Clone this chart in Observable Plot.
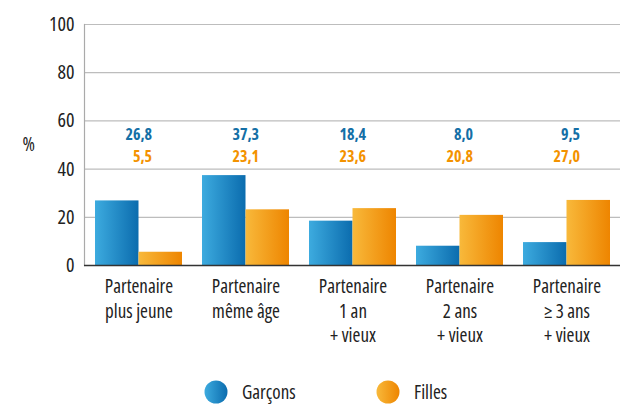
<!DOCTYPE html>
<html><head><meta charset="utf-8">
<script src="https://cdn.jsdelivr.net/npm/d3@7"></script>
<script src="https://cdn.jsdelivr.net/npm/@observablehq/plot@0.6"></script>
<style>
body{margin:0;background:#fff;font-family:"Open Sans",sans-serif;font-stretch:75%;}
svg text{font-stretch:75%;}
#legend{height:44px;position:relative;font-size:19px;color:#222;}
.item{position:absolute;top:19px;display:flex;align-items:center;gap:14px;}
</style></head><body>
<div id="chart"></div>
<div id="legend"></div>
<script>
const categories = ["Partenaire\nplus jeune", "Partenaire\nmême âge", "Partenaire\n1 an\n+ vieux", "Partenaire\n2 ans\n+ vieux", "Partenaire\n≥ 3 ans\n+ vieux"];
const series = ["Garçons", "Filles"];
const garcons = [26.8, 37.3, 18.4, 8.0, 9.5];
const filles = [5.5, 23.1, 23.6, 20.8, 27.0];
const yTicks = [0, 20, 40, 60, 80, 100];
const fmt = v => v.toFixed(1).replace(".", ",");

const dataG = categories.map((c, i) => ({cat: c, v: garcons[i]}));
const dataF = categories.map((c, i) => ({cat: c, v: filles[i]}));

const W = 622, H = 360, ML = 84, MR = 2, MT = 24, MB = 95;
const half = 43.5;

const chart = Plot.plot({
  width: W, height: H,
  marginLeft: ML, marginRight: MR, marginTop: MT, marginBottom: MB,
  style: {fontFamily: '"Open Sans",sans-serif', background: "#fff", color: "#222"},
  x: {domain: categories, paddingInner: 0.187, paddingOuter: 0.0935, axis: null},
  y: {domain: [0, 100], axis: null},
  marks: [
    Plot.gridY(yTicks, {stroke: "#bdbdbd", strokeOpacity: 1, strokeWidth: 1.2}),
    Plot.frame({anchor: "left", stroke: "#aaa", strokeWidth: 1.2}),
    Plot.barY(dataG, {x: "cat", y: "v", fill: "url(#gradBlue)", insetLeft: 0, insetRight: half}),
    Plot.barY(dataF, {x: "cat", y: "v", fill: "url(#gradOrange)", insetLeft: half, insetRight: 0}),
    Plot.ruleY([0], {stroke: "#333", strokeWidth: 1.6}),
    Plot.axisY(yTicks, {tickSize: 0, tickPadding: 10, fontSize: 20, label: null}),
    Plot.text(dataG, {x: "cat", y: () => 54.4, text: d => fmt(d.v), dx: 13, textAnchor: "end", fill: "#146fa6", fontWeight: "bold", fontSize: 16}),
    Plot.text(dataF, {x: "cat", y: () => 45.2, text: d => fmt(d.v), dx: 13, textAnchor: "end", fill: "#f39200", fontWeight: "bold", fontSize: 16}),
    Plot.text(categories, {x: d => d, text: d => d, frameAnchor: "bottom", lineAnchor: "top", dy: 10, lineHeight: 1.3, fontSize: 19, fill: "#222"}),
    Plot.text(["%"], {text: d => d, y: () => 50, frameAnchor: "left", dx: -62, fontSize: 19, fill: "#222"})
  ]
});

const ns = "http://www.w3.org/2000/svg";
const defs = document.createElementNS(ns, "defs");
defs.innerHTML = `
<linearGradient id="gradBlue" x1="0" x2="1" y1="0" y2="0"><stop offset="0" stop-color="#3dabdf"/><stop offset="1" stop-color="#0b6cae"/></linearGradient>
<linearGradient id="gradOrange" x1="0" x2="1" y1="0" y2="0"><stop offset="0" stop-color="#f8b93b"/><stop offset="1" stop-color="#ee8500"/></linearGradient>`;
chart.insertBefore(defs, chart.firstChild);
document.getElementById("chart").appendChild(chart);

const legend = document.getElementById("legend");
const colors = [["#3dabdf", "#0b6cae", "lgB"], ["#f8b93b", "#ee8500", "lgO"]];
const lefts = [204, 376];
series.forEach((s, i) => {
  const d = document.createElement("div");
  d.className = "item";
  d.style.left = lefts[i] + "px";
  d.innerHTML = `<svg width="24" height="24"><defs><linearGradient id="${colors[i][2]}" x1="0" x2="1"><stop offset="0" stop-color="${colors[i][0]}"/><stop offset="1" stop-color="${colors[i][1]}"/></linearGradient></defs><circle cx="12" cy="12" r="11.5" fill="url(#${colors[i][2]})"/></svg><span>${s}</span>`;
  legend.appendChild(d);
});
</script>
</body></html>
